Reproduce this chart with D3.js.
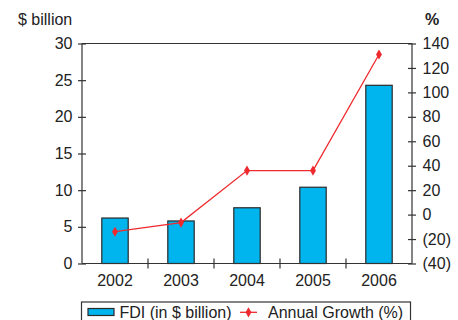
<!DOCTYPE html>
<html><head><meta charset="utf-8">
<script src="https://cdn.jsdelivr.net/npm/d3@7"></script>
<style>body{margin:0;background:#fff}text{font-family:"Liberation Sans",Arial,sans-serif;fill:#222}</style>
</head><body><svg id="c" width="458" height="320"></svg>
<script>
const years = ["2002","2003","2004","2005","2006"];
const fdi = [6.2, 5.8, 7.6, 10.4, 24.3];
const growth = [-14, -6.5, 36, 36, 131];
const leftTicks = [0,5,10,15,20,25,30];
const rightTicks = [-40,-20,0,20,40,60,80,100,120,140];

const svg = d3.select("#c");
const m = {l:82, r:412, t:43.5, b:263.5};
const x = d3.scaleBand().domain(years).range([m.l, m.r]);
const yL = d3.scaleLinear().domain([0,30]).range([m.b, m.t]);
const yR = d3.scaleLinear().domain([-40,140]).range([m.b, m.t]);
const axisCol = "#333";
const FS = 16;
const fmtR = v => v < 0 ? "(" + Math.abs(v) + ")" : String(v);

// bars
svg.selectAll("rect.bar").data(fdi).join("rect")
  .attr("x", (d,i) => x(years[i]) + x.bandwidth()*0.3)
  .attr("width", x.bandwidth()*0.4)
  .attr("y", d => yL(d)).attr("height", d => yL(0) - yL(d))
  .attr("fill", "#00b4ee").attr("stroke", "#2a2a2a").attr("stroke-width", 1.2);

// top border
svg.append("line").attr("x1", m.l).attr("x2", m.r).attr("y1", m.t).attr("y2", m.t)
  .attr("stroke", axisCol).attr("stroke-width", 1.2);

// left axis
const gL = svg.append("g").attr("transform", `translate(${m.l},0)`)
  .call(d3.axisLeft(yL).tickValues(leftTicks).tickSize(0).tickPadding(9.5));
gL.select(".domain").remove();
gL.append("line").attr("y1", m.t).attr("y2", m.b).attr("stroke", axisCol).attr("stroke-width", 1.2);
gL.selectAll(".tick").append("line").attr("x1", -4).attr("x2", 4).attr("stroke", axisCol).attr("stroke-width", 1.2);

// right axis
const gR = svg.append("g").attr("transform", `translate(${m.r},0)`)
  .call(d3.axisRight(yR).tickValues(rightTicks).tickFormat(fmtR).tickSize(0).tickPadding(10.5));
gR.select(".domain").remove();
gR.append("line").attr("y1", m.t).attr("y2", m.b).attr("stroke", axisCol).attr("stroke-width", 1.2);
gR.selectAll(".tick").append("line").attr("x1", -4).attr("x2", 4).attr("stroke", axisCol).attr("stroke-width", 1.2);

// bottom axis
const gB = svg.append("g").attr("transform", `translate(0,${m.b})`)
  .call(d3.axisBottom(x).tickSize(0).tickPadding(11.5));
gB.select(".domain").remove();
gB.append("line").attr("x1", m.l).attr("x2", m.r).attr("stroke", axisCol).attr("stroke-width", 1.2);
const bounds = years.slice(1).map(y => x(y));
gB.selectAll("line.sep").data(bounds).join("line").attr("class","sep")
  .attr("x1", d => d).attr("x2", d => d).attr("y1", -5).attr("y2", 5)
  .attr("stroke", axisCol).attr("stroke-width", 1.2);

svg.selectAll(".tick text").attr("font-size", FS).attr("font-family", '"Liberation Sans",Arial,sans-serif').attr("fill", "#222");

// line
const line = d3.line().x((d,i) => x(years[i]) + x.bandwidth()/2).y(d => yR(d));
svg.append("path").datum(growth).attr("d", line).attr("fill", "none")
  .attr("stroke", "#ee2a2e").attr("stroke-width", 1.3);
const diamond = d3.symbol().type(d3.symbolDiamond).size(30);
svg.selectAll("path.mk").data(growth).join("path").attr("class","mk")
  .attr("d", diamond)
  .attr("transform", (d,i) => `translate(${x(years[i]) + x.bandwidth()/2},${yR(d)})`)
  .attr("fill", "#ee2a2e");

// axis titles
svg.append("text").attr("x", 18).attr("y", 25).attr("font-size", FS).text("$ billion");
svg.append("text").attr("x", 425).attr("y", 25).attr("font-size", FS).attr("font-weight", "bold").text("%");

// legend
svg.append("rect").attr("x", 81.5).attr("y", 302).attr("width", 329).attr("height", 24)
  .attr("fill", "none").attr("stroke", axisCol).attr("stroke-width", 1.2);
svg.append("rect").attr("x", 88).attr("y", 308.5).attr("width", 26).attr("height", 7)
  .attr("fill", "#00b4ee").attr("stroke", "#2a2a2a").attr("stroke-width", 1.2);
svg.append("text").attr("x", 119.5).attr("y", 318).attr("font-size", FS).text("FDI (in $ billion)");
svg.append("line").attr("x1", 240).attr("x2", 257).attr("y1", 312.3).attr("y2", 312.3)
  .attr("stroke", "#ee2a2e").attr("stroke-width", 1.3);
svg.append("path").attr("d", diamond).attr("transform", "translate(248.5,312.3)").attr("fill", "#ee2a2e");
svg.append("text").attr("x", 268).attr("y", 318).attr("font-size", FS).text("Annual Growth (%)");
</script></body></html>
